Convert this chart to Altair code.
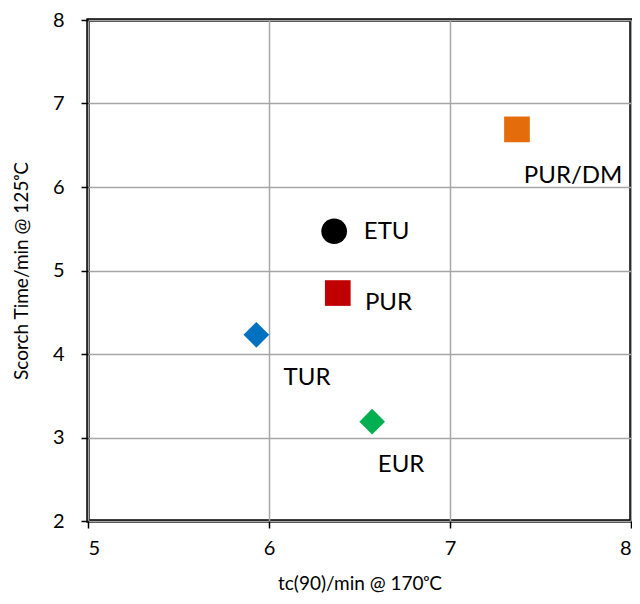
import altair as alt
import pandas as pd

names = ["ETU", "PUR", "TUR", "EUR", "PUR/DM"]
tc90 = [6.36, 6.38, 5.93, 6.57, 7.37]
scorch = [5.47, 4.73, 4.23, 3.19, 6.69]
shapes = ["circle", "square", "diamond", "diamond", "square"]
colors = ["#000000", "#C00000", "#0070C0", "#00B050", "#E46C0A"]
label_x = [6.65, 6.66, 6.21, 6.73, 7.68]
label_y = [5.46, 4.61, 3.71, 2.67, 6.13]

df = pd.DataFrame({"name": names, "x": tc90, "y": scorch, "shape": shapes,
                   "color": colors, "lx": label_x, "ly": label_y})

FONT = "Lato"

xs = alt.Scale(domain=[5, 8], nice=False, zero=False)
ys = alt.Scale(domain=[2, 8], nice=False, zero=False)

common = dict(grid=True, gridColor="#A6A6A6", gridWidth=1.5,
              domain=False, tickColor="#000000", tickSize=7, tickWidth=1.5,
              labelFont=FONT, labelFontSize=20, labelColor="#000000",
              titleFont=FONT, titleFontSize=19, titleFontWeight="normal",
              titleColor="#000000")

xaxis = alt.Axis(title="tc(90)/min @ 170ᵒC", values=[5, 6, 7, 8], format="d",
                 labelPadding=10, titlePadding=16, **common)
yaxis = alt.Axis(title="Scorch Time/min @ 125ᵒC", values=[2, 3, 4, 5, 6, 7, 8], format="d",
                 labelPadding=17, titlePadding=21, **common)

points = alt.Chart(df).mark_point(filled=True, size=660, opacity=1).encode(
    x=alt.X("x:Q", scale=xs, axis=xaxis),
    y=alt.Y("y:Q", scale=ys, axis=yaxis),
    shape=alt.Shape("shape:N", scale=None),
    color=alt.Color("color:N", scale=None),
)

labels = alt.Chart(df).mark_text(font=FONT, fontSize=24, color="#000000",
                                 align="center", baseline="middle").encode(
    x=alt.X("lx:Q", scale=xs),
    y=alt.Y("ly:Q", scale=ys),
    text="name:N",
)

chart = alt.layer(points, labels).properties(
    width=543, height=501,
    autosize=alt.AutoSizeParams(type="none"),
    padding={"left": 80, "top": 12, "right": 1, "bottom": 75},
).configure_view(stroke="#000000", strokeWidth=3.5)

chart.save("out.html", embed_options={"renderer": "svg", "actions": False})
